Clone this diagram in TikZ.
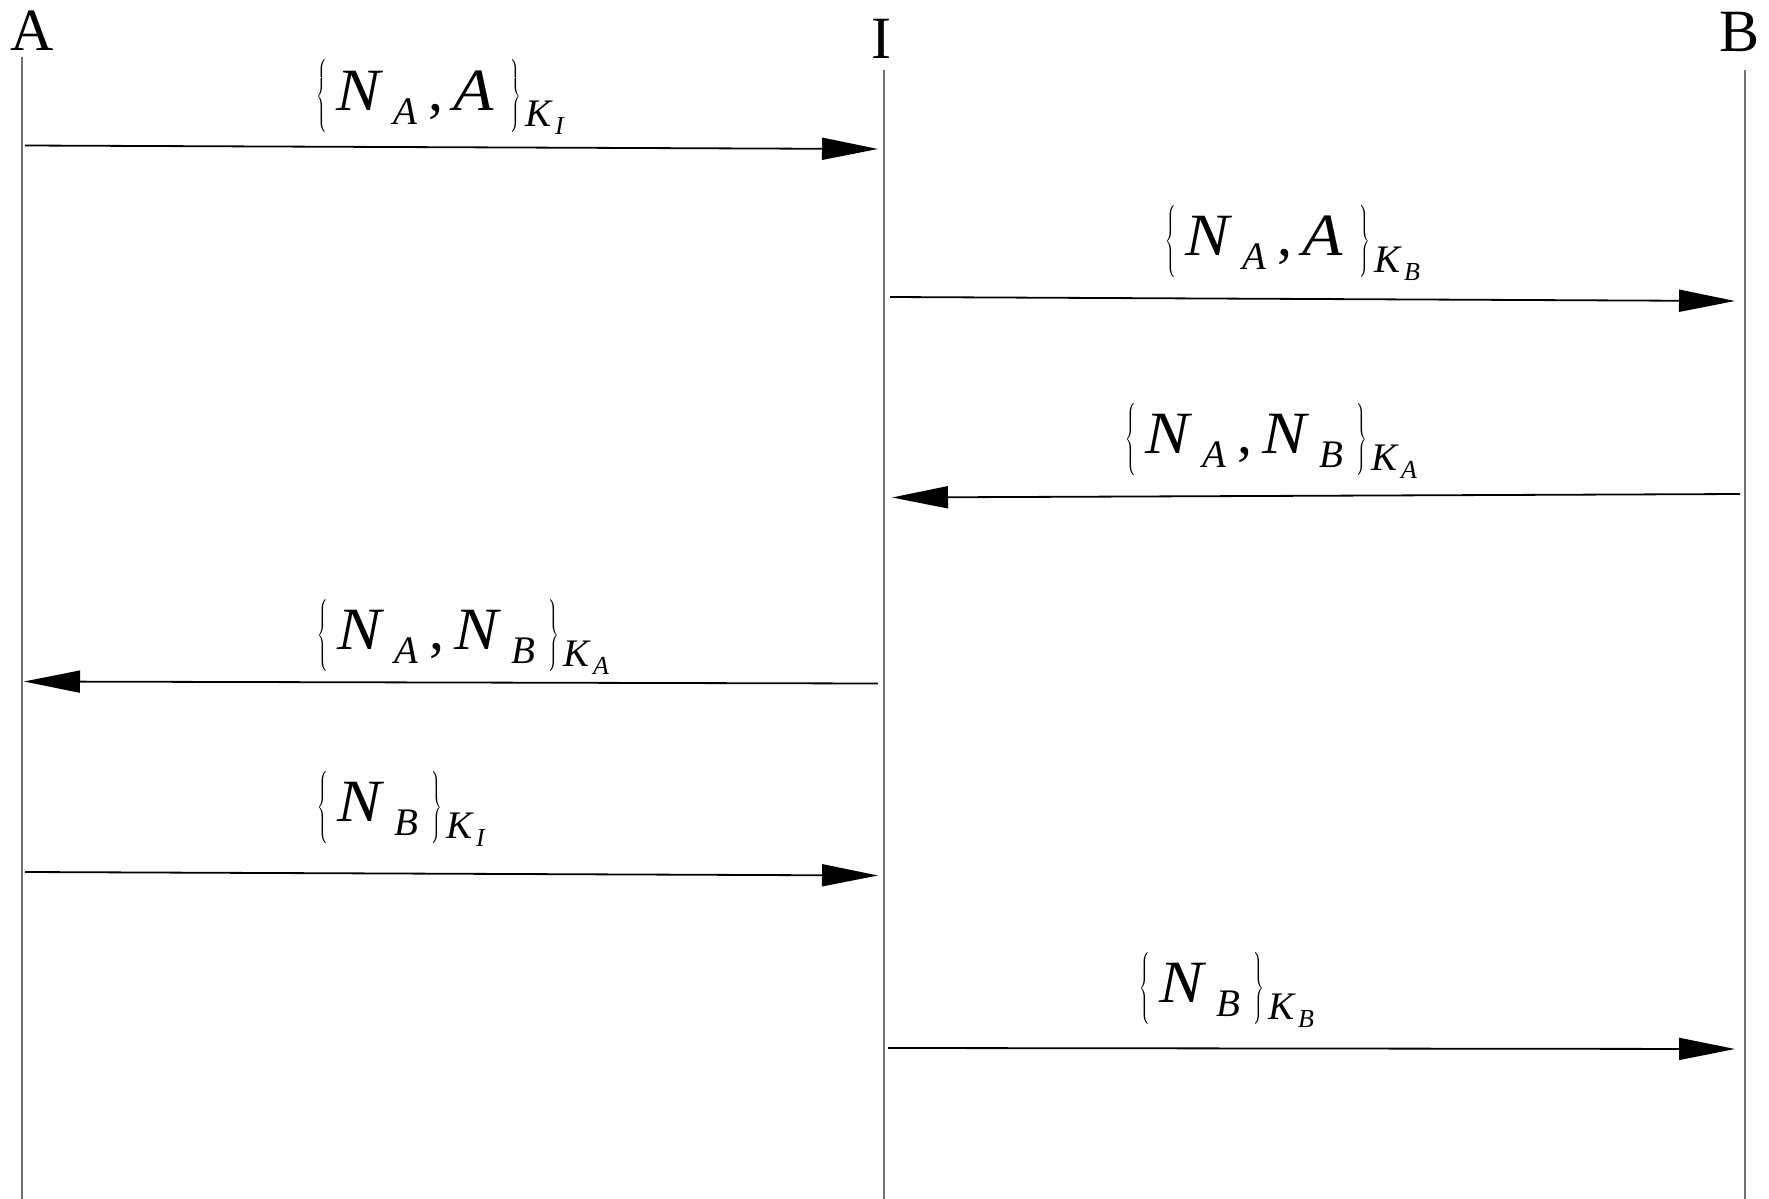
\documentclass[tikz,border=0pt]{standalone}
\usepackage{fontspec}
\setmainfont{Liberation Serif}
\usepackage{graphicx}
\usetikzlibrary{arrows.meta}
% braces
\newcommand\bracebox[1]{\raisebox{4.5pt}{\scalebox{0.6}[1]{\fontsize{10}{12}\selectfont$#1$}}}
\newcommand\Lb{\makebox[10pt][l]{\bracebox{\left\{\vrule height 19.5pt depth 14.5pt width 0pt\right.}}}
\newcommand\Rb{\hspace{4pt}\makebox[5.5pt][l]{\bracebox{\left.\vrule height 19.5pt depth 14.5pt width 0pt\right\}}}\hspace{2.5pt}}
% big letter, subscript, comma, key
\newcommand\BigLet[2][28.5pt]{\makebox[#1][l]{\scalebox{1.1}[1]{\textit{#2}}}}
\newcommand\Sub[1]{\makebox[14pt][l]{\raisebox{-7pt}{\fontsize{19.5}{19.5}\selectfont\textit{#1}}}}
\newcommand\Comma{\makebox[16pt][l]{\kern3.5pt,}}
\newcommand\Key[1]{\raisebox{-8.5pt}{\fontsize{19.5}{19.5}\selectfont\textit{K}}\kern1pt\raisebox{-12.5pt}{\fontsize{13}{13}\selectfont\textit{#1}}}
\begin{document}
\begin{tikzpicture}[x=0.5pt,y=-0.5pt,
  life/.style={draw=black!55, line width=0.7pt},
  msgarrow/.style={draw=black, line width=0.9pt, -{Triangle[length=28pt,width=11pt]}},
  msglabel/.style={font=\fontsize{30}{36}\selectfont, inner sep=0pt, anchor=base west},
  actor/.style={font=\fontsize{30}{36}\selectfont, inner sep=0pt, anchor=base}]
\useasboundingbox (0,0) rectangle (1769,1199);
% actors
\node[actor] (An) at (32,50) {A};
\node[actor] (In) at (881,58) {I};
\node[actor] (Bn) at (1739,51) {B};
% lifelines
\coordinate (At) at (22,57);  \coordinate (Ab) at (22,1199);
\coordinate (It) at (884,70); \coordinate (Ib) at (884,1199);
\coordinate (Bt) at (1745,70);\coordinate (Bb) at (1745,1199);
\draw[life] (At) -- (Ab);
\draw[life] (It) -- (Ib);
\draw[life] (Bt) -- (Bb);
% message end points
\coordinate (m1s) at (25,145.5);  \coordinate (m1e) at (878,149);
\coordinate (m2s) at (890,297);   \coordinate (m2e) at (1735,301);
\coordinate (m3s) at (1740,494);  \coordinate (m3e) at (892,497.5);
\coordinate (m4s) at (878,683.5); \coordinate (m4e) at (24,681.5);
\coordinate (m5s) at (25,872);    \coordinate (m5e) at (878,875.5);
\coordinate (m6s) at (888,1048);  \coordinate (m6e) at (1735,1049);
\draw[msgarrow] (m1s) -- (m1e);
\draw[msgarrow] (m2s) -- (m2e);
\draw[msgarrow] (m3s) -- (m3e);
\draw[msgarrow] (m4s) -- (m4e);
\draw[msgarrow] (m5s) -- (m5e);
\draw[msgarrow] (m6s) -- (m6e);
% labels
\node[msglabel] (l1) at (316,110) {\Lb\BigLet{N}\Sub{A}\Comma\BigLet[24pt]{A}\Rb\Key{I}};
\node[msglabel] (l2) at (1165,255) {\Lb\BigLet{N}\Sub{A}\Comma\BigLet[24pt]{A}\Rb\Key{B}};
\node[msglabel] (l3) at (1125,453) {\Lb\BigLet{N}\Sub{A}\Comma\BigLet{N}\Sub{B}\Rb\Key{A}};
\node[msglabel] (l4) at (317,649) {\Lb\BigLet{N}\Sub{A}\Comma\BigLet{N}\Sub{B}\Rb\Key{A}};
\node[msglabel] (l5) at (317,821) {\Lb\BigLet{N}\Sub{B}\Rb\Key{I}};
\node[msglabel] (l6) at (1139,1002) {\Lb\BigLet{N}\Sub{B}\Rb\Key{B}};
\end{tikzpicture}
\end{document}
